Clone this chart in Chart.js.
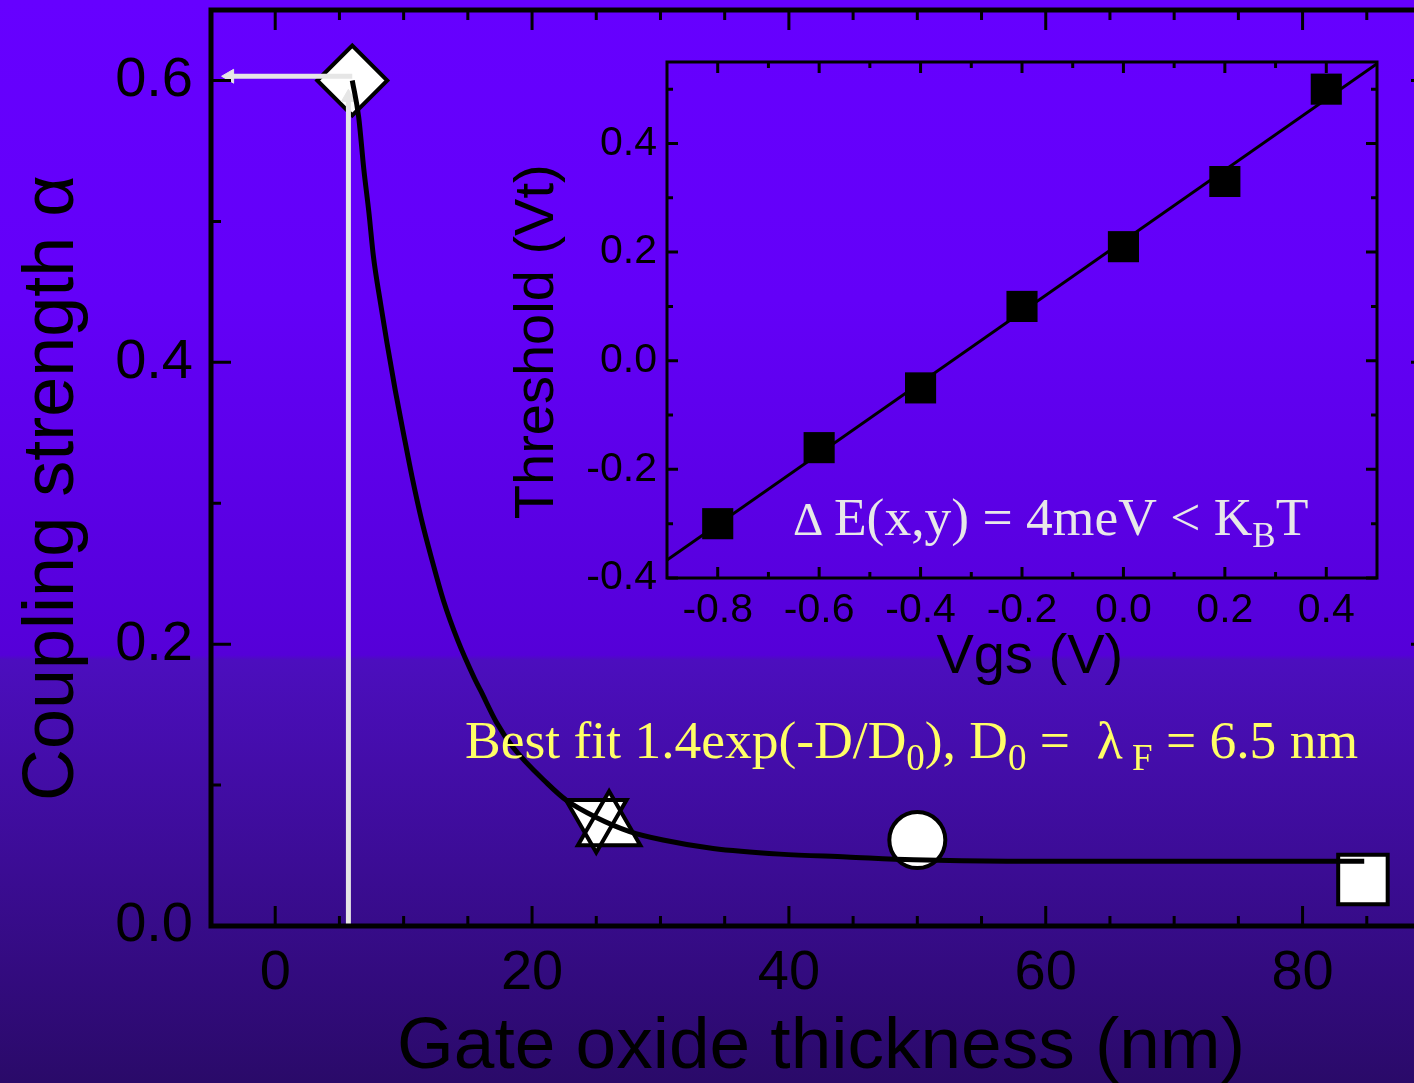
<!DOCTYPE html>
<html>
  <head>
    <title>Coupling strength vs gate oxide thickness</title>
    <meta charset="UTF-8" />
    <script src="https://cdn.jsdelivr.net/npm/chart.js"></script>
    <style>
      html, body { margin: 0; padding: 0; }
      body {
        width: 1414px;
        height: 1083px;
        overflow: hidden;
        position: relative;
        background: linear-gradient(to bottom, #6600ff 0px, #6300f8 300px, #5500d8 655px, #4c0ebe 660px, #2a0a69 1083px);
      }
      #mainBox { position: absolute; left: 0; top: 0; }
      #insetBox { position: absolute; left: 500px; top: 40px; }
    </style>
  </head>

  <body>
    <div id="mainBox"><canvas id="mainChart" width="1440" height="1083"></canvas></div>
    <div id="insetBox"><canvas id="insetChart" width="900" height="660"></canvas></div>

    <script>
      // ---- main plot: coupling strength vs gate oxide thickness ----
      const sampleD = [6, 25, 26, 50, 84.7];
      const sampleAlpha = [0.600, 0.077, 0.070, 0.061, 0.033];
      const sampleStyle = ['rectRot', 'triangle', 'triangle', 'circle', 'rect'];
      const sampleRotation = [0, 180, 0, 0, 0];

      // best fit curve
      const fitD = [6.0, 6.5, 6.9, 7.3, 7.65, 8.2, 8.7, 9.35, 10.0, 10.65, 11.4, 12.2, 13.1, 14.2, 15.5, 16.0, 17.2, 18.5, 21.2, 22.7, 25.0, 27.6, 30.2, 34.1, 39.3, 44.5, 49.7, 57, 70, 84.8];
      const fitAlpha = [0.600, 0.574, 0.537, 0.506, 0.475, 0.442, 0.414, 0.380, 0.349, 0.319, 0.288, 0.260, 0.231, 0.203, 0.176, 0.167, 0.145, 0.127, 0.101, 0.089, 0.077, 0.067, 0.061, 0.055, 0.051, 0.049, 0.047, 0.046, 0.046, 0.046];

      // white guide arrows (up to the diamond, then left to the axis)
      const guideUpD = [5.7, 5.7];
      const guideUpAlpha = [0, 0.588];
      const guideLeftD = [6.0, -3.5];
      const guideLeftAlpha = [0.603, 0.603];
      const arrowHeadD = [5.7, -3.55];
      const arrowHeadAlpha = [0.588, 0.603];
      const arrowHeadRotation = [0, -90];

      const mainXLabels = [0, 20, 40, 60, 80];
      const mainYLabels = [0, 0.2, 0.4, 0.6];
      const mainXMinor = [5, 10, 15, 25, 30, 35, 45, 50, 55, 65, 70, 75, 85];
      const mainYMinor = [0.1, 0.3, 0.5];

      // ---- inset: threshold vs Vgs ----
      const vgs = [-0.8, -0.6, -0.4, -0.2, 0.0, 0.2, 0.4];
      const vt = [-0.30, -0.16, -0.05, 0.10, 0.21, 0.33, 0.50];
      const vtFitX = [-0.9, 0.5];
      const vtFitY = [-0.367, 0.547];

      const insetXLabels = [-0.8, -0.6, -0.4, -0.2, 0, 0.2, 0.4];
      const insetYLabels = [-0.4, -0.2, 0, 0.2, 0.4];
      const insetXMinor = [-0.7, -0.5, -0.3, -0.1, 0.1, 0.3];
      const insetYMinor = [-0.3, -0.1, 0.1, 0.3, 0.5];

      const sans = '"Liberation Sans", Arial, sans-serif';
      const serif = '"Liberation Serif", "Times New Roman", serif';

      const pts = (xs, ys) => xs.map((x, i) => ({ x: x, y: ys[i] }));

      // box round the plot with inward ticks on all four sides
      const frameTicks = {
        id: 'frameTicks',
        afterDraw(chart, args, o) {
          const { ctx, chartArea: a } = chart;
          const x = chart.scales.x, y = chart.scales.y;
          ctx.save();
          ctx.strokeStyle = '#000';
          ctx.lineWidth = o.tickWidth;
          ctx.beginPath();
          const vTicks = (vals, len) => vals.forEach(v => {
            const px = x.getPixelForValue(v);
            ctx.moveTo(px, a.bottom); ctx.lineTo(px, a.bottom - len);
            ctx.moveTo(px, a.top); ctx.lineTo(px, a.top + len);
          });
          const hTicks = (vals, len) => vals.forEach(v => {
            const py = y.getPixelForValue(v);
            ctx.moveTo(a.left, py); ctx.lineTo(a.left + len, py);
            ctx.moveTo(a.right, py); ctx.lineTo(a.right - len, py);
          });
          vTicks(o.xMajor, o.major);
          vTicks(o.xMinor, o.minor);
          hTicks(o.yMajor, o.major);
          hTicks(o.yMinor, o.minor);
          ctx.stroke();
          ctx.lineWidth = o.width;
          ctx.strokeRect(a.left, a.top, a.right - a.left, a.bottom - a.top);
          ctx.restore();
        }
      };

      // text with sub-scripts: each piece is [text, size, baseline shift]
      const richText = {
        id: 'richText',
        afterDraw(chart, args, o) {
          const ctx = chart.ctx;
          ctx.save();
          ctx.textBaseline = 'alphabetic';
          ctx.textAlign = 'left';
          o.items.forEach(item => {
            let x = item.x;
            ctx.fillStyle = item.color;
            item.parts.forEach(([t, size, dy]) => {
              ctx.font = size + 'px ' + serif;
              ctx.fillText(t, x, item.y + dy);
              x += ctx.measureText(t).width;
            });
          });
          ctx.restore();
        }
      };

      const noPad = s => { s.paddingLeft = s.paddingRight = s.paddingTop = s.paddingBottom = 0; };

      new Chart(document.getElementById('mainChart'), {
        type: 'scatter',
        data: {
          datasets: [
            {
              data: pts(fitD, fitAlpha),
              showLine: true,
              borderColor: '#000',
              borderWidth: 5,
              pointRadius: 0,
              cubicInterpolationMode: 'monotone',
              order: 0
            },
            {
              data: pts(guideUpD, guideUpAlpha),
              showLine: true,
              borderColor: '#e6e6e6',
              borderWidth: 5,
              pointRadius: 0,
              order: 1
            },
            {
              data: pts(guideLeftD, guideLeftAlpha),
              showLine: true,
              borderColor: '#e6e6e6',
              borderWidth: 5,
              pointRadius: 0,
              order: 1
            },
            {
              data: pts(arrowHeadD, arrowHeadAlpha),
              pointStyle: 'triangle',
              pointRotation: arrowHeadRotation,
              pointRadius: 8,
              pointBackgroundColor: '#e6e6e6',
              pointBorderColor: '#e6e6e6',
              pointBorderWidth: 1,
              order: 1
            },
            {
              // outlines above the fills so both triangles of the star show
              data: pts(sampleD, sampleAlpha),
              pointStyle: sampleStyle,
              pointRotation: sampleRotation,
              pointRadius: [35, 35, 36, 28, 35],
              pointBackgroundColor: 'rgba(0,0,0,0)',
              pointBorderColor: '#000',
              pointBorderWidth: 4,
              order: 2
            },
            {
              data: pts(sampleD, sampleAlpha),
              pointStyle: sampleStyle,
              pointRotation: sampleRotation,
              pointRadius: [35, 35, 36, 28, 35],
              pointBackgroundColor: '#fff',
              pointBorderWidth: 0,
              order: 3
            }
          ]
        },
        options: {
          responsive: false,
          animation: false,
          events: [],
          layout: { autoPadding: false, padding: { top: 10, right: 9, left: 0, bottom: 0 } },
          plugins: {
            legend: { display: false },
            tooltip: { enabled: false },
            frameTicks: {
              width: 5, tickWidth: 3, major: 20, minor: 10,
              xMajor: mainXLabels, xMinor: mainXMinor,
              yMajor: mainYLabels, yMinor: mainYMinor
            },
            richText: {
              items: [{
                x: 465, y: 758, color: '#ffff66',
                parts: [
                  ['Best fit 1.4exp(-D/D', 53.5, 0], ['0', 37, 12], ['), D', 53.5, 0], ['0', 37, 12],
                  [' =  ', 53.5, 0], ['\u03bb', 53.5, 0], [' F', 37, 12], [' = 6.5 nm', 53.5, 0]
                ]
              }]
            }
          },
          scales: {
            x: {
              type: 'linear',
              min: -5,
              max: 90,
              grid: { display: false, drawTicks: false },
              border: { display: false },
              afterBuildTicks: s => { s.ticks = mainXLabels.map(v => ({ value: v })); },
              afterFit: s => { s.height = 157; noPad(s); },
              ticks: {
                color: '#000',
                font: { family: sans, size: 56 },
                padding: 14,
                maxRotation: 0,
                callback: v => v.toFixed(0)
              },
              title: {
                display: true,
                text: 'Gate oxide thickness (nm)',
                color: '#000',
                font: { family: sans, size: 73, lineHeight: 0.95 },
                padding: 0
              }
            },
            y: {
              type: 'linear',
              min: 0,
              max: 0.65,
              grid: { display: false, drawTicks: false },
              border: { display: false },
              afterBuildTicks: s => { s.ticks = mainYLabels.map(v => ({ value: v })); },
              afterFit: s => { s.width = 211; noPad(s); },
              ticks: {
                color: '#000',
                font: { family: sans, size: 56 },
                padding: 18,
                callback: v => v.toFixed(1)
              },
              title: {
                display: true,
                text: 'Coupling strength \u03b1  ',
                color: '#000',
                font: { family: sans, size: 72, lineHeight: 1 },
                padding: { top: 17, bottom: 0 }
              }
            }
          }
        },
        plugins: [frameTicks, richText]
      });

      new Chart(document.getElementById('insetChart'), {
        type: 'scatter',
        data: {
          datasets: [
            {
              data: pts(vgs, vt),
              pointStyle: 'rect',
              pointRadius: 22,
              pointBackgroundColor: '#000',
              pointBorderColor: '#000',
              pointBorderWidth: 0,
              order: 0
            },
            {
              data: pts(vtFitX, vtFitY),
              showLine: true,
              borderColor: '#000',
              borderWidth: 3,
              pointRadius: 0,
              order: 1
            }
          ]
        },
        options: {
          responsive: false,
          animation: false,
          events: [],
          layout: { autoPadding: false, padding: { top: 22, right: 23, left: 0, bottom: 0 } },
          plugins: {
            legend: { display: false },
            tooltip: { enabled: false },
            frameTicks: {
              width: 3, tickWidth: 3, major: 11, minor: 6,
              xMajor: insetXLabels, xMinor: insetXMinor,
              yMajor: insetYLabels, yMinor: insetYMinor
            },
            richText: {
              items: [{
                x: 293, y: 495, color: '#e8e8e8',
                parts: [
                  ['\u0394', 47, 0], ['\u2009E(x,y) = 4meV < K', 53.5, 0], ['B', 35, 12], ['T', 53.5, 0]
                ]
              }]
            }
          },
          scales: {
            x: {
              type: 'linear',
              min: -0.9,
              max: 0.5,
              grid: { display: false, drawTicks: false },
              border: { display: false },
              afterBuildTicks: s => { s.ticks = insetXLabels.map(v => ({ value: v })); },
              afterFit: s => { s.height = 122; noPad(s); },
              ticks: {
                color: '#000',
                font: { family: sans, size: 41 },
                padding: 8,
                maxRotation: 0,
                callback: v => v.toFixed(1)
              },
              title: {
                display: true,
                text: ' Vgs (V)',
                color: '#000',
                font: { family: sans, size: 56, lineHeight: 1 },
                padding: { top: 0, bottom: 14 }
              }
            },
            y: {
              type: 'linear',
              min: -0.4,
              max: 0.55,
              grid: { display: false, drawTicks: false },
              border: { display: false },
              afterBuildTicks: s => { s.ticks = insetYLabels.map(v => ({ value: v })); },
              afterFit: s => { s.width = 167; noPad(s); },
              ticks: {
                color: '#000',
                font: { family: sans, size: 41 },
                padding: 10,
                callback: v => v.toFixed(1)
              },
              title: {
                display: true,
                text: 'Threshold (Vt)\u2002 ',
                color: '#000',
                font: { family: sans, size: 56, lineHeight: 1 },
                padding: { top: 10, bottom: 0 }
              }
            }
          }
        },
        plugins: [frameTicks, richText]
      });
    </script>
  </body>
</html>
